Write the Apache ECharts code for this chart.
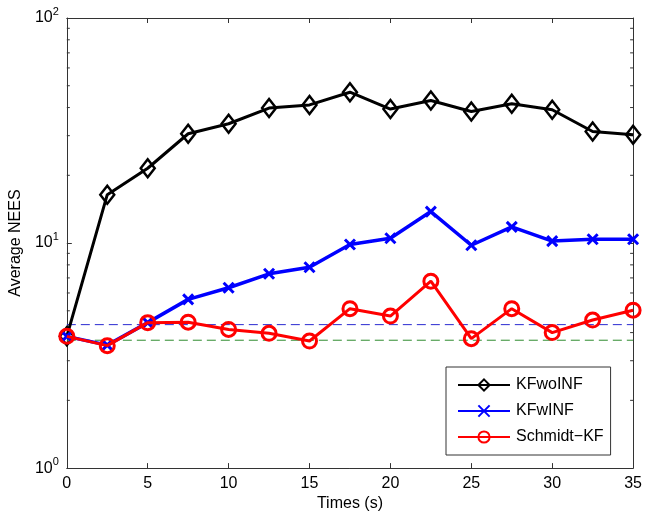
<!DOCTYPE html>
<html>
<head>
<meta charset="utf-8">
<script src="https://cdn.jsdelivr.net/npm/echarts@6/dist/echarts.min.js"></script>
<style>html,body{margin:0;padding:0;background:#fff}#c{width:645px;height:517px}</style>
</head>
<body>
<div id="c"></div>
<script>
var times = [0, 2.5, 5, 7.5, 10, 12.5, 15, 17.5, 20, 22.5, 25, 27.5, 30, 32.5, 35];
var kfwoinf = [3.85, 16.4, 21.5, 30.6, 33.9, 39.8, 41.1, 46.8, 39.4, 43.0, 38.4, 41.6, 39.1, 31.3, 30.3];
var kfwinf = [3.85, 3.52, 4.43, 5.62, 6.33, 7.30, 7.81, 9.85, 10.5, 13.8, 9.78, 11.8, 10.2, 10.4, 10.4];
var schmidt = [3.85, 3.50, 4.43, 4.45, 4.13, 3.97, 3.67, 5.11, 4.74, 6.77, 3.76, 5.11, 4.0, 4.55, 5.03];
var upperBound = 4.34;
var lowerBound = 3.70;
var xTicks = [0, 5, 10, 15, 20, 25, 30, 35];
var yMinorTicks = [2, 3, 4, 5, 6, 7, 8, 9, 20, 30, 40, 50, 60, 70, 80, 90];
var seriesNames = ['KFwoINF', 'KFwINF', 'Schmidt\u2212KF'];

function pairs(ys) { return times.map(function (t, i) { return [t, ys[i]]; }); }

var font = 'Liberation Sans, Arial, Helvetica, sans-serif';
var chart = echarts.init(document.getElementById('c'));
var supRich = {
  b: { fontSize: 16, fontFamily: font, color: '#000' },
  s: { fontSize: 11, fontFamily: font, color: '#000', padding: [0, 0, 12, 0] }
};
var axLine = { show: true, onZero: false, lineStyle: { color: '#333', width: 1 } };
var axTick = { show: true, inside: true, length: 5, lineStyle: { color: '#333' } };
chart.setOption({
  animation: false,
  backgroundColor: '#fff',
  textStyle: { fontFamily: font },
  grid: { left: 65, right: 10, top: 18, bottom: 48 },
  xAxis: [{
    type: 'value', min: 0, max: 35, interval: 5,
    name: 'Times (s)', nameLocation: 'middle', nameGap: 20,
    nameTextStyle: { fontSize: 16, color: '#000', fontFamily: font },
    axisLine: axLine, axisTick: axTick,
    axisLabel: { fontSize: 16, color: '#000', margin: 7, fontFamily: font },
    splitLine: { show: false }
  }, {
    type: 'value', min: 0, max: 35, interval: 5, position: 'top',
    axisLine: axLine, axisTick: axTick,
    axisLabel: { show: false }, splitLine: { show: false }
  }],
  yAxis: [{
    type: 'log', logBase: 10, min: 1, max: 100,
    name: 'Average NEES', nameLocation: 'middle', nameGap: 40,
    nameTextStyle: { fontSize: 16, color: '#000', fontFamily: font },
    axisLine: axLine, axisTick: axTick,
    axisLabel: {
      margin: 8, rich: supRich,
      formatter: function (v) { return '{b|10}{s|' + Math.round(Math.log10(v)) + '}'; }
    },
    splitLine: { show: false }
  }, {
    type: 'log', logBase: 10, min: 1, max: 100, position: 'right',
    axisLine: axLine, axisTick: axTick,
    axisLabel: { show: false }, splitLine: { show: false }
  }],
  legend: {
    data: seriesNames,
    orient: 'vertical', left: 446, top: 367,
    padding: [10, 7, 10, 11],
    itemGap: 10, itemWidth: 52, itemHeight: 14,
    borderColor: '#333', borderWidth: 1, backgroundColor: '#fff',
    textStyle: { fontSize: 16, color: '#000', fontFamily: font, padding: [0, 0, 0, 1] }
  },
  series: [{
    type: 'custom', name: 'minor', silent: true, z: 1,
    data: yMinorTicks.map(function (v) { return [0, v]; }),
    renderItem: function (params, api) {
      var v = api.value(1);
      var l = api.coord([0, v]);
      var r = api.coord([35, v]);
      return { type: 'group', children: [
        { type: 'line', shape: { x1: l[0], y1: l[1], x2: l[0] + 3, y2: l[1] }, style: { stroke: '#333', lineWidth: 1 } },
        { type: 'line', shape: { x1: r[0], y1: r[1], x2: r[0] - 3, y2: r[1] }, style: { stroke: '#333', lineWidth: 1 } }
      ] };
    }
  }, {
    type: 'line', name: 'upper', data: [[0, upperBound], [35, upperBound]], symbol: 'none', z: 2,
    lineStyle: { color: '#2a2ad0', width: 1, type: [9, 5] }, silent: true
  }, {
    type: 'line', name: 'lower', data: [[0, lowerBound], [35, lowerBound]], symbol: 'none', z: 2,
    lineStyle: { color: '#2e8b2e', width: 1, type: [9, 5] }, silent: true
  }, {
    type: 'line', name: seriesNames[0], data: pairs(kfwoinf), z: 3,
    symbol: 'diamond', symbolSize: [14, 18],
    lineStyle: { color: '#000', width: 3 },
    itemStyle: { color: 'rgba(255,255,255,0)', borderColor: '#000', borderWidth: 2.5 }
  }, {
    type: 'line', name: seriesNames[1], data: pairs(kfwinf), z: 4,
    symbol: 'path://M0,0L10,10M0,10L10,0', symbolSize: 10,
    lineStyle: { color: '#0000ff', width: 3.5 },
    itemStyle: { color: '#0000ff', borderColor: '#0000ff', borderWidth: 3 }
  }, {
    type: 'line', name: seriesNames[2], data: pairs(schmidt), z: 5,
    symbol: 'circle', symbolSize: 14,
    lineStyle: { color: '#ff0000', width: 3 },
    itemStyle: { color: 'rgba(255,255,255,0)', borderColor: '#ff0000', borderWidth: 3 }
  }]
});
</script>
</body>
</html>
